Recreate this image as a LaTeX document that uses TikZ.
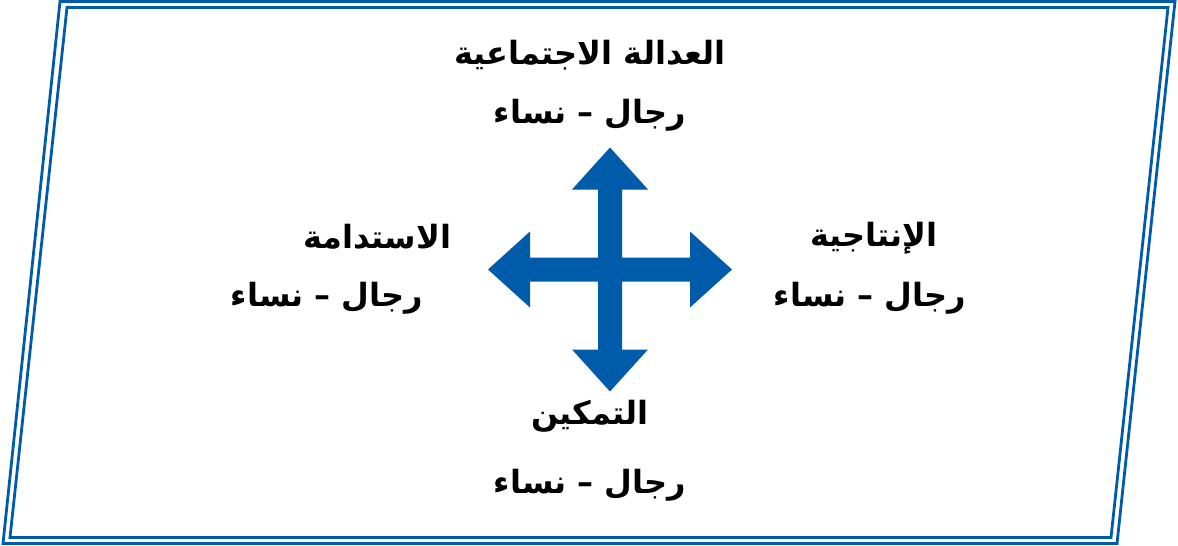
\documentclass[tikz,border=0pt]{standalone}
\usepackage{fontspec}
\newfontfamily\arabicfont[Script=Arabic]{DejaVu Sans}
\TeXXeTstate=1
\definecolor{ablue}{RGB}{0,91,170}
\tikzset{
  frame/.style={draw=ablue, line width=2.8pt, line join=miter},
  lbl/.style={font=\arabicfont\bfseries\fontsize{32}{38}\selectfont, inner sep=0pt, text=black},
}
\begin{document}
\begin{tikzpicture}[x=1pt,y=-1pt]
\useasboundingbox (0,0) rectangle (1178,546);
% double parallelogram frame
\draw[frame] (60,1.5) -- (1175,1.5) -- (1117,543.5) -- (3,543.5) -- cycle;
\draw[frame] (67,7.5) -- (1168,7.5) -- (1111,537.5) -- (10,537.5) -- cycle;
% four-way arrow
\coordinate (c) at (610,269.5);
\fill[ablue] ([shift={(0,-122)}]c) -- ([shift={(38,-80)}]c) -- ([shift={(12,-80)}]c) -- ([shift={(12,-12)}]c)
  -- ([shift={(80,-12)}]c) -- ([shift={(80,-38)}]c) -- ([shift={(122,0)}]c) -- ([shift={(80,38)}]c)
  -- ([shift={(80,12)}]c) -- ([shift={(12,12)}]c) -- ([shift={(12,80)}]c) -- ([shift={(38,80)}]c)
  -- ([shift={(0,122)}]c) -- ([shift={(-38,80)}]c) -- ([shift={(-12,80)}]c) -- ([shift={(-12,12)}]c)
  -- ([shift={(-80,12)}]c) -- ([shift={(-80,38)}]c) -- ([shift={(-122,0)}]c) -- ([shift={(-80,-38)}]c)
  -- ([shift={(-80,-12)}]c) -- ([shift={(-12,-12)}]c) -- ([shift={(-12,-80)}]c) -- ([shift={(-38,-80)}]c) -- cycle;
% labels
\node[lbl] (t1) at (590,55) {\beginR العدالة الاجتماعية\endR};
\node[lbl] (t2) at (590,115) {\beginR رجال – نساء\endR};
\node[lbl] (l1) at (377,237) {\beginR الاستدامة\endR};
\node[lbl] (l2) at (327,298) {\beginR رجال – نساء\endR};
\node[lbl] (r1) at (874,238) {\beginR الإنتاجية\endR};
\node[lbl] (r2) at (870,298) {\beginR رجال – نساء\endR};
\node[lbl] (b1) at (590,416) {\beginR التمكين\endR};
\node[lbl] (b2) at (590,485) {\beginR رجال – نساء\endR};
\end{tikzpicture}
\end{document}
